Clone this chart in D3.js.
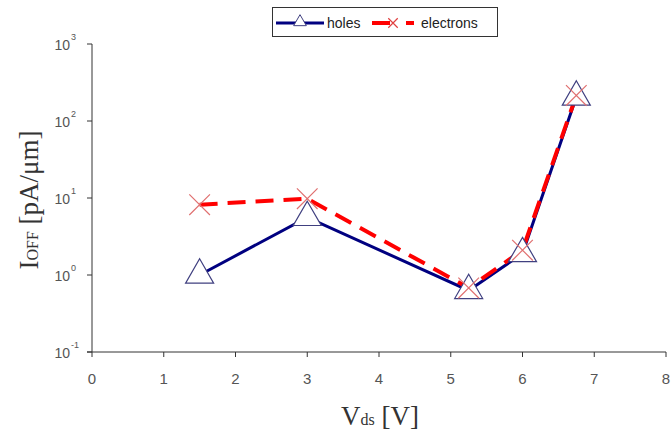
<!DOCTYPE html>
<html>
<head>
<meta charset="utf-8">
<script src="https://cdn.jsdelivr.net/npm/d3@7"></script>
<style>
  body { margin: 0; background: #fff; }
  svg { display: block; }
</style>
</head>
<body>
<svg id="chart" width="672" height="434"></svg>
<script>
// values
const vds = [1.5, 3, 5.25, 6, 6.75]
const holes = [1.0, 5.6, 0.63, 1.9, 205]
const electrons = [8.2, 9.8, 0.68, 2.1, 215]
const xTicks = [0, 1, 2, 3, 4, 5, 6, 7, 8]
const yExps = [-1, 0, 1, 2, 3]

const svg = d3.select('#chart')
const x = d3.scaleLinear().domain([0, 8]).range([92, 666])
const y = d3.scaleLog().domain([0.1, 1000]).range([352, 44])

const axisColor = '#333'

// y axis
svg.append('line')
  .attr('x1', x(0)).attr('x2', x(0))
  .attr('y1', y(1000)).attr('y2', y(0.1))
  .attr('stroke', axisColor).attr('stroke-width', 1)

yExps.forEach(e => {
  const yy = y(Math.pow(10, e))
  svg.append('line')
    .attr('x1', x(0) - 5).attr('x2', x(0))
    .attr('y1', yy).attr('y2', yy)
    .attr('stroke', axisColor)
  svg.append('text')
    .attr('x', 70).attr('y', yy + 6)
    .attr('text-anchor', 'end')
    .attr('font-family', 'Liberation Sans, Arial, sans-serif')
    .attr('font-size', 14)
    .attr('fill', '#555')
    .text('10')
  svg.append('text')
    .attr('x', 71).attr('y', yy - 4)
    .attr('font-family', 'Liberation Sans, Arial, sans-serif')
    .attr('font-size', 9)
    .attr('fill', '#555')
    .text(e)
})

// x axis
svg.append('line')
  .attr('x1', x(0) - 5).attr('x2', x(8))
  .attr('y1', y(0.1)).attr('y2', y(0.1))
  .attr('stroke', axisColor)

xTicks.forEach(v => {
  svg.append('line')
    .attr('x1', x(v)).attr('x2', x(v))
    .attr('y1', y(0.1)).attr('y2', y(0.1) + 5)
    .attr('stroke', axisColor)
  svg.append('text')
    .attr('x', x(v)).attr('y', 384)
    .attr('text-anchor', 'middle')
    .attr('font-family', 'Liberation Sans, Arial, sans-serif')
    .attr('font-size', 15)
    .attr('fill', '#555')
    .text(v)
})

// axis titles
const xt = svg.append('text')
  .attr('x', 380).attr('y', 425)
  .attr('text-anchor', 'middle')
  .attr('font-family', 'Liberation Serif, Times New Roman, serif')
  .attr('font-size', 27)
  .attr('fill', '#333')
xt.append('tspan').text('V')
xt.append('tspan').attr('font-size', 16).text('ds')
xt.append('tspan').text(' [V]')

const yt = svg.append('text')
  .attr('transform', 'translate(38,200) rotate(-90)')
  .attr('text-anchor', 'middle')
  .attr('font-family', 'Liberation Serif, Times New Roman, serif')
  .attr('font-size', 27)
  .attr('fill', '#333')
yt.append('tspan').text('I')
yt.append('tspan').attr('font-size', 16).text('OFF')
yt.append('tspan').text(' [pA/μm]')

// series lines
const line = d3.line().x(d => x(d[0])).y(d => y(d[1]))
const holesPts = vds.map((v, i) => [v, holes[i]])
const elecPts = vds.map((v, i) => [v, electrons[i]])

svg.append('path').datum(holesPts)
  .attr('d', line).attr('fill', 'none')
  .attr('stroke', '#000080').attr('stroke-width', 3)

svg.append('path').datum(elecPts)
  .attr('d', line).attr('fill', 'none')
  .attr('stroke', '#ff0000').attr('stroke-width', 4)
  .attr('stroke-dasharray', '18,10')

// markers
const tri = d3.symbol().type(d3.symbolTriangle).size(340)
svg.selectAll('.tri').data(holesPts).enter().append('path')
  .attr('class', 'tri')
  .attr('d', tri)
  .attr('transform', d => `translate(${x(d[0])},${y(d[1])})`)
  .attr('fill', '#fff').attr('stroke', '#404080').attr('stroke-width', 1.2)

const cross = d3.symbol().type(d3.symbolX).size(280)
svg.selectAll('.cross').data(elecPts).enter().append('path')
  .attr('class', 'cross')
  .attr('d', cross)
  .attr('transform', d => `translate(${x(d[0])},${y(d[1])})`)
  .attr('fill', 'none').attr('stroke', '#e07070').attr('stroke-width', 1.2)

// legend
const lg = svg.append('g')
lg.append('rect')
  .attr('x', 272.5).attr('y', 7.5).attr('width', 225).attr('height', 29)
  .attr('fill', '#fff').attr('stroke', '#333')
lg.append('line')
  .attr('x1', 276).attr('x2', 324).attr('y1', 23).attr('y2', 23)
  .attr('stroke', '#000080').attr('stroke-width', 3)
lg.append('path')
  .attr('d', d3.symbol().type(d3.symbolTriangle).size(70))
  .attr('transform', 'translate(300,22)')
  .attr('fill', '#fff').attr('stroke', '#404080')
lg.append('text')
  .attr('x', 327).attr('y', 28)
  .attr('font-family', 'Liberation Sans, Arial, sans-serif')
  .attr('font-size', 14).attr('fill', '#222')
  .text('holes')
lg.append('line')
  .attr('x1', 372).attr('x2', 390).attr('y1', 23).attr('y2', 23)
  .attr('stroke', '#ff0000').attr('stroke-width', 4)
lg.append('path')
  .attr('d', d3.symbol().type(d3.symbolX).size(60))
  .attr('transform', 'translate(393,23)')
  .attr('fill', 'none').attr('stroke', '#e04040').attr('stroke-width', 1.2)
lg.append('line')
  .attr('x1', 406).attr('x2', 414).attr('y1', 23).attr('y2', 23)
  .attr('stroke', '#ff0000').attr('stroke-width', 4)
lg.append('text')
  .attr('x', 421).attr('y', 28)
  .attr('font-family', 'Liberation Sans, Arial, sans-serif')
  .attr('font-size', 14).attr('fill', '#222')
  .text('electrons')
</script>
</body>
</html>
